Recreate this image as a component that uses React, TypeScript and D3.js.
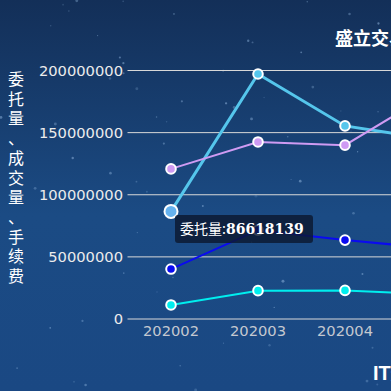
import React from "react";
import * as d3 from "d3";

const months = ["202002", "202003", "202004", "202005"];
const entrustVol = [86618139, 197200000, 155400000, 144700000];
const tradeVol = [120800000, 142500000, 139900000, 182000000];
const seriesC = [40200000, 71500000, 63500000, 57000000];
const feeVol = [11300000, 22800000, 23000000, 19700000];
const yTicks = [0, 50000000, 100000000, 150000000, 200000000];
const yTitle = "委托量、成交量、手续费";

const series = [
  { name: "委托量", values: entrustVol, color: "#55c6ec", width: 3 },
  { name: "成交量", values: tradeVol, color: "#cf9bf3", width: 2 },
  { name: "成交额", values: seriesC, color: "#0a0af0", width: 2 },
  { name: "手续费", values: feeVol, color: "#00eeee", width: 2 },
];

const W = 391;
const H = 391;
const left = 127.5;
const step = 87;

const x = d3
  .scaleBand<string>()
  .domain(months)
  .range([left, left + step * months.length]);
const y = d3.scaleLinear().domain([0, 200000000]).range([319, 70.5]);

const line = d3
  .line<number>()
  .x((_, i) => (x(months[i]) ?? 0) + x.bandwidth() / 2)
  .y((d) => y(d));

// decorative star field
const rnd = d3.randomLcg(0.42);
const stars = d3.range(70).map(() => ({
  cx: rnd() * W,
  cy: rnd() * H,
  r: 0.6 + rnd() * 0.9,
  o: 0.15 + rnd() * 0.35,
}));

const App = () => {
  const cx0 = (x(months[0]) ?? 0) + x.bandwidth() / 2;
  return (
    <svg
      width={W}
      height={H}
      style={{ position: "fixed", left: 0, top: 0, display: "block" }}
    >
      <defs>
        <linearGradient id="bg" x1="0" y1="0" x2="0" y2="1">
          <stop offset="0" stopColor="#132f58" />
          <stop offset="0.55" stopColor="#1b4b84" />
          <stop offset="1" stopColor="#1a4883" />
        </linearGradient>
      </defs>
      <rect width={W} height={H} fill="url(#bg)" />
      {stars.map((s, i) => (
        <circle key={i} cx={s.cx} cy={s.cy} r={s.r} fill="#9fc3ea" opacity={s.o} />
      ))}

      <text
        x={335}
        y={45}
        fill="#fff"
        fontFamily="'Noto Sans CJK SC', sans-serif"
        fontWeight="bold"
        fontSize={18}
      >
        盛立交易系统委托量、成交量、手续费统计
      </text>
      <text
        x={373}
        y={380}
        fill="#fff"
        fontFamily="'Liberation Sans', sans-serif"
        fontWeight="bold"
        fontSize={20}
      >
        IT运维
      </text>

      {/* grid + y ticks */}
      {yTicks.map((t) => (
        <g key={t}>
          <line x1={left} x2={W} y1={y(t)} y2={y(t)} stroke="#d8d8d8" strokeWidth={1} />
          <text
            x={123}
            y={y(t)}
            dy="0.36em"
            textAnchor="end"
            fill="#ececec"
            fontFamily="'DejaVu Sans', sans-serif"
            fontSize={14.7}
          >
            {t}
          </text>
        </g>
      ))}

      {/* x labels */}
      {months.map((m) => (
        <text
          key={m}
          x={(x(m) ?? 0) + x.bandwidth() / 2}
          y={336}
          textAnchor="middle"
          fill="#c4c8d0"
          fontFamily="'DejaVu Sans', sans-serif"
          fontSize={14.7}
        >
          {m}
        </text>
      ))}

      {/* y title, vertical */}
      <text
        fill="#fff"
        fontFamily="'Noto Sans CJK SC', sans-serif"
        fontSize={16}
        textAnchor="middle"
      >
        {yTitle.split("").map((c, i) => (
          <tspan key={i} x={16} y={85 + i * 19.7}>
            {c}
          </tspan>
        ))}
      </text>

      {/* series */}
      {series.map((s) => (
        <g key={s.name}>
          <path d={line(s.values) ?? ""} fill="none" stroke={s.color} strokeWidth={s.width} />
          {s.values.map((v, i) => (
            <circle
              key={i}
              cx={(x(months[i]) ?? 0) + x.bandwidth() / 2}
              cy={y(v)}
              r={s.name === "委托量" && i === 0 ? 6.5 : 4.8}
              fill={s.name === "委托量" && i === 0 ? "#66b2ee" : s.color}
              stroke="#fff"
              strokeWidth={2}
            />
          ))}
        </g>
      ))}

      {/* tooltip */}
      <g>
        <rect x={175} y={215} width={138} height={28} rx={3} fill="rgba(12,24,48,0.82)" />
        <text x={180} y={234} fill="#fff" fontFamily="'DejaVu Serif', serif" fontSize={14}>
          <tspan fontFamily="'Noto Sans CJK SC', sans-serif">{series[0].name}:</tspan>
          <tspan fontWeight="bold">{entrustVol[0]}</tspan>
        </text>
      </g>
      <line x1={cx0} x2={cx0} y1={0} y2={0} />
    </svg>
  );
};

export default App;
